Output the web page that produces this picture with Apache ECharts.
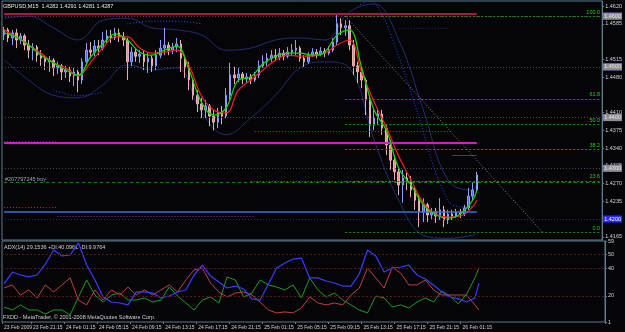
<!DOCTYPE html>
<html><head><meta charset="utf-8">
<script src="https://cdn.jsdelivr.net/npm/echarts@6/dist/echarts.min.js"></script>
<style>html,body{margin:0;padding:0;background:#050508;}#c{width:625px;height:332px;}</style>
</head><body><div id="c"></div>
<script>
// ---- price data (30-min bars, GBPUSD) ----
const openP=[1.4563,1.4573,1.4557,1.4567,1.4553,1.4561,1.4543,1.4533,1.4539,1.4523,1.4517,1.4510,1.4513,1.4498,1.4502,1.4490,1.4494,1.4482,1.4490,1.4474,1.4510,1.4533,1.4529,1.4541,1.4537,1.4553,1.4561,1.4557,1.4567,1.4559,1.4553,1.4510,1.4529,1.4521,1.4525,1.4510,1.4517,1.4502,1.4523,1.4537,1.4543,1.4533,1.4539,1.4545,1.4517,1.4498,1.4474,1.4444,1.4427,1.4415,1.4423,1.4403,1.4391,1.4411,1.4403,1.4444,1.4484,1.4478,1.4486,1.4476,1.4480,1.4474,1.4484,1.4502,1.4510,1.4517,1.4523,1.4519,1.4527,1.4521,1.4529,1.4533,1.4537,1.4517,1.4510,1.4523,1.4529,1.4525,1.4531,1.4527,1.4533,1.4549,1.4585,1.4577,1.4581,1.4543,1.4502,1.4490,1.4474,1.4435,1.4385,1.4399,1.4407,1.4379,1.4346,1.4316,1.4293,1.4267,1.4281,1.4273,1.4257,1.4237,1.4214,1.4228,1.4208,1.4214,1.4206,1.4218,1.4198,1.4210,1.4206,1.4214,1.4210,1.4222,1.4245,1.4257];
const closeP=[1.4573,1.4557,1.4567,1.4553,1.4561,1.4543,1.4533,1.4539,1.4523,1.4517,1.4510,1.4513,1.4498,1.4502,1.4490,1.4494,1.4482,1.4490,1.4474,1.4510,1.4533,1.4529,1.4541,1.4537,1.4553,1.4561,1.4557,1.4567,1.4559,1.4553,1.4510,1.4529,1.4521,1.4525,1.4510,1.4517,1.4502,1.4523,1.4537,1.4543,1.4533,1.4539,1.4545,1.4517,1.4498,1.4474,1.4444,1.4427,1.4415,1.4423,1.4403,1.4391,1.4411,1.4403,1.4444,1.4484,1.4478,1.4486,1.4476,1.4480,1.4474,1.4484,1.4502,1.4510,1.4517,1.4523,1.4519,1.4527,1.4521,1.4529,1.4533,1.4537,1.4517,1.4510,1.4523,1.4529,1.4525,1.4531,1.4527,1.4533,1.4549,1.4585,1.4577,1.4581,1.4543,1.4502,1.4490,1.4474,1.4435,1.4385,1.4399,1.4407,1.4379,1.4346,1.4316,1.4293,1.4267,1.4281,1.4273,1.4257,1.4237,1.4214,1.4228,1.4208,1.4214,1.4206,1.4218,1.4198,1.4210,1.4206,1.4214,1.4210,1.4222,1.4245,1.4257,1.4287];
const lowP=[1.4553,1.4549,1.4543,1.4537,1.4545,1.4533,1.4517,1.4513,1.4510,1.4502,1.4494,1.4490,1.4482,1.4486,1.4474,1.4478,1.4470,1.4462,1.4450,1.4466,1.4502,1.4517,1.4521,1.4523,1.4533,1.4545,1.4547,1.4553,1.4549,1.4541,1.4474,1.4502,1.4510,1.4508,1.4494,1.4488,1.4490,1.4494,1.4517,1.4523,1.4523,1.4525,1.4529,1.4490,1.4478,1.4454,1.4435,1.4411,1.4399,1.4399,1.4383,1.4375,1.4379,1.4387,1.4399,1.4435,1.4466,1.4470,1.4466,1.4468,1.4466,1.4470,1.4478,1.4498,1.4502,1.4510,1.4511,1.4513,1.4513,1.4517,1.4521,1.4523,1.4510,1.4500,1.4506,1.4519,1.4517,1.4521,1.4519,1.4523,1.4529,1.4543,1.4563,1.4561,1.4533,1.4484,1.4468,1.4458,1.4405,1.4362,1.4375,1.4385,1.4366,1.4326,1.4297,1.4277,1.4247,1.4232,1.4257,1.4243,1.4218,1.4184,1.4194,1.4194,1.4198,1.4192,1.4198,1.4184,1.4190,1.4198,1.4202,1.4202,1.4206,1.4218,1.4237,1.4253];
const highP=[1.4579,1.4577,1.4573,1.4575,1.4567,1.4565,1.4553,1.4547,1.4543,1.4533,1.4523,1.4521,1.4517,1.4510,1.4506,1.4502,1.4500,1.4498,1.4494,1.4517,1.4547,1.4549,1.4553,1.4553,1.4569,1.4573,1.4573,1.4577,1.4575,1.4569,1.4557,1.4539,1.4537,1.4533,1.4533,1.4529,1.4523,1.4533,1.4553,1.4577,1.4549,1.4547,1.4557,1.4553,1.4523,1.4510,1.4478,1.4454,1.4439,1.4435,1.4427,1.4415,1.4419,1.4423,1.4458,1.4508,1.4500,1.4498,1.4490,1.4488,1.4486,1.4490,1.4513,1.4523,1.4527,1.4533,1.4535,1.4537,1.4533,1.4539,1.4545,1.4553,1.4541,1.4523,1.4529,1.4537,1.4535,1.4539,1.4537,1.4541,1.4557,1.4602,1.4596,1.4592,1.4592,1.4553,1.4510,1.4500,1.4478,1.4444,1.4415,1.4419,1.4415,1.4385,1.4356,1.4326,1.4300,1.4297,1.4291,1.4285,1.4263,1.4247,1.4241,1.4232,1.4222,1.4222,1.4241,1.4226,1.4218,1.4218,1.4220,1.4220,1.4228,1.4261,1.4271,1.4293];

// moving averages (sampled every 3 bars)
const maIdx=[0,3,6,9,12,15,18,21,24,27,30,33,36,39,42,45,48,51,54,57,60,63,66,69,72,75,78,81,84,87,90,93,96,99,102,105,108,111,114,115];
const redMA=[1.4573,1.4559,1.4543,1.4527,1.4508,1.4498,1.4482,1.4508,1.4537,1.4559,1.4559,1.4537,1.4527,1.4529,1.4533,1.4502,1.4443,1.4415,1.4409,1.4454,1.4474,1.4494,1.4513,1.4523,1.4521,1.4521,1.4527,1.4543,1.4553,1.4490,1.4431,1.4381,1.4324,1.4277,1.4232,1.4210,1.4204,1.4206,1.4224,1.4237];
const greenMA=[1.4567,1.4559,1.4543,1.4523,1.4508,1.4494,1.4484,1.4519,1.4545,1.4565,1.4553,1.4529,1.4523,1.4533,1.4541,1.4494,1.4431,1.4405,1.4419,1.4474,1.4480,1.4506,1.4521,1.4527,1.4527,1.4523,1.4529,1.4563,1.4573,1.4498,1.4415,1.4375,1.4300,1.4267,1.4228,1.4208,1.4202,1.4210,1.4237,1.4257];

// bands (sampled every 6 bars)
const bbIdx=[0,6,12,18,24,30,36,42,48,54,60,66,72,78,84,90,96,102,108,114,115];
const bbUpper=[1.4596,1.4600,1.4577,1.4553,1.4592,1.4596,1.4577,1.4573,1.4563,1.4533,1.4537,1.4553,1.4557,1.4553,1.4608,1.4624,1.4553,1.4415,1.4277,1.4257,1.4267];
const bbLower=[1.4514,1.4474,1.4444,1.4439,1.4464,1.4504,1.4494,1.4498,1.4411,1.4366,1.4399,1.4444,1.4498,1.4510,1.4498,1.4356,1.4237,1.4168,1.4162,1.4168,1.4172];
// dotted envelope (visible parts only; null = gap)
const envIdx=[12,18,24,25,30,36,42,48,49,86,89,92,95,98,101,104,107,109,112,115];
const envVal=[1.4454,1.4443,1.4450,null,1.4585,1.4590,1.4590,1.4585,null,1.4620,1.4630,1.4602,1.4543,1.4474,1.4399,1.4316,1.4253,1.4228,1.4224,1.4226];

// ADX(14) pane (sampled every 2 bars)
const adxIdx=[0,2,4,6,8,10,12,14,16,18,20,22,24,26,28,30,32,34,36,38,40,42,44,46,48,50,52,54,56,58,60,62,64,66,68,70,72,74,76,78,80,82,84,86,88,90,92,94,96,98,100,102,104,106,108,110,112,114,115];
const adx=[28.6,37.1,35,33.6,35,42.9,52.9,48.6,49.3,57.9,42.1,31.4,19.3,15.7,15,13.6,22.9,22.9,22.1,18.6,20,22.9,24.3,35,42.1,34.3,30,25.7,27.1,25,17.9,17.1,28.6,40,43.6,46.4,47.1,32.9,32.9,30.7,29.3,27.1,27.1,35.7,52.9,48.6,37.1,40,40.7,42.1,35,32.1,27.9,22.9,19.3,17.9,15.7,18.6,29.2];
const plusDI=[12.1,10,13.6,10,10,7.1,10,10,6.4,19.3,31.4,20.7,15.7,20.7,22.1,17.1,17.1,18.6,15.7,17.1,26.4,20,15,10,17.1,19.3,15,33.6,31.4,19.3,22.1,31.4,27.9,26.4,24.3,27.9,18.6,32.9,24.3,19.3,22.1,17.1,13.6,10,7.9,20,18.6,12.1,13.6,11.4,15.7,18.6,15.7,23.6,20,14.3,21.4,32.9,40.1];
const minusDI=[25.7,27.9,20.7,24.3,18.6,27.9,22.9,27.9,32.9,17.1,13.6,24.3,17.1,24.3,20.7,26.4,20.7,24.3,20.7,24.3,27.9,22.9,31.4,38.6,40,29.3,22.9,19.3,22.1,22.9,20.7,15.7,10,7.9,8.6,7.9,11.4,19.3,15,13.6,15,13.6,20.7,25.7,40,32.9,25.7,40.7,36.4,27.9,27.9,31.4,24.3,20.7,20.7,20.7,20.7,13.6,10];

// levels and tick labels
const priceTicks=[1.4620,1.4585,1.4515,1.4480,1.4410,1.4375,1.4340,1.4305,1.4270,1.4235,1.4165];
const adxTicks=[59,50,40,20,1.4];
const adxLevels=[50,40,20];
const roundLevels=[1.4600,1.4500,1.4400,1.4300,1.4200];
const halfLevels=[1.4550,1.4450,1.4350,1.4250];
const bidPrice=1.4287;
const fibPct=['100.0','61.8','50.0','38.2','23.6','0.0'];
const fibPrice=[1.4600,1.4437,1.4387,1.4337,1.4275,1.4174];
const fibStart=83, fibEnd=131;
const timeLabels=['23 Feb 2009','23 Feb 21:15','24 Feb 01:15','24 Feb 05:15','24 Feb 09:15','24 Feb 13:15','24 Feb 17:15','24 Feb 21:15','25 Feb 01:15','25 Feb 05:15','25 Feb 09:15','25 Feb 13:15','25 Feb 17:15','25 Feb 21:15','26 Feb 01:15'];
// user-drawn horizontal segments: [fromBar, toBar, price, color, dash, width]
const segments=[
 [0,115,1.4605,'#b5143e','solid',2],
 [0,115,1.4350,'#d21ec2','solid',2],
 [0,115,1.4214,'#3a6ed8','solid',1.5],
 [0,145,1.4273,'#178a17',[3,3],1],
 [60,108,1.4274,'#c23ec2',[1,2],1],
 [61,109,1.4374,'#b8301c',[1,2],1],
 [0,13,1.4354,'#1f5c22',[1,2],1],
 [0,13,1.4224,'#b03030',[1,2],1],
 [13,61,1.4206,'#8a32a8',[1,2],1],
 [96,108,1.4577,'#1f3466',[1,2],1],
 [109,115,1.4326,'#3d4650','solid',1]
];

const N=146;
const start=Date.UTC(2009,1,23,17,45);
const cats=[];
for(let i=0;i<N;i++){const d=new Date(start+i*1800000);cats.push(d.getUTCDate()+' Feb '+String(d.getUTCHours()).padStart(2,'0')+':'+String(d.getUTCMinutes()).padStart(2,'0'));}
const lastBar=openP.length-1;
const showLab=(i,v)=> i===0 || (i<=lastBar && timeLabels.indexOf(v)>0);

const FONT='Liberation Sans';
const FS=5.5;
const AX='#5d7d8d';
const candles=openP.map((o,i)=>[o,closeP[i],lowP[i],highP[i]]);
const pairs=(idx,vals)=>idx.map((k,j)=>[k,vals[j]]);
const boxLabel=(bg,fg)=>({show:true,position:'end',distance:1,formatter:p=>p.value.toFixed(4),backgroundColor:bg,color:fg,fontSize:FS,fontFamily:FONT,padding:[1,1,0,1]});

const mlData=[];
roundLevels.forEach(v=>mlData.push({yAxis:v,lineStyle:{color:'#1d3868',type:[1,2],width:1},label:boxLabel('#2a2aff','#ffffff')}));
halfLevels.forEach(v=>mlData.push({yAxis:v,lineStyle:{color:'#4a4a55',type:[1,2],width:1},label:boxLabel('#8e8e8e','#e4e4e4')}));
mlData.push({yAxis:bidPrice,lineStyle:{opacity:0},label:boxLabel('#a8d4ff','#1a2040')});
segments.forEach(s=>mlData.push([{coord:[s[0],s[2]],lineStyle:{color:s[3],type:s[4],width:s[5]}},{coord:[s[1],s[2]]}]));
fibPrice.forEach((v,k)=>mlData.push([{coord:[fibStart,v],lineStyle:{color:'#129612',type:[2,2],width:1},label:{show:true,position:'insideEndTop',distance:[0,1],formatter:fibPct[k],color:'#1ed21e',fontSize:FS,fontFamily:FONT}},{coord:[N-1,v]}]));
mlData.push([{coord:[fibStart,fibPrice[0]],lineStyle:{color:'#8c8c8c',type:[1,2],width:1}},{coord:[fibEnd,fibPrice[5]]}]);

const chart=echarts.init(document.getElementById('c'));
chart.setOption({
 animation:false,
 backgroundColor:'#050508',
 textStyle:{fontFamily:FONT},
 grid:[
  {left:2,right:20,top:1,height:239,show:true,borderColor:AX,borderWidth:1,backgroundColor:'transparent'},
  {left:2,right:20,top:241,height:81,show:true,borderColor:AX,borderWidth:1,backgroundColor:'transparent'}
 ],
 xAxis:[
  {gridIndex:0,type:'category',data:cats,boundaryGap:true,axisLine:{show:false},axisTick:{show:false},axisLabel:{show:false},splitLine:{show:false}},
  {gridIndex:1,type:'category',data:cats,boundaryGap:true,axisLine:{show:false},
   axisTick:{show:true,interval:showLab,length:2,lineStyle:{color:AX}},
   axisLabel:{show:true,interval:showLab,showMinLabel:true,hideOverlap:false,formatter:(v,i)=>i===0?timeLabels[0]:v,align:'left',margin:3,fontSize:5,color:'#cfd3d6',fontFamily:FONT},splitLine:{show:false}}
 ],
 yAxis:[
  {gridIndex:0,type:'value',position:'right',min:1.41586,max:1.46299,splitLine:{show:false},
   axisLine:{show:true,lineStyle:{color:AX}},axisTick:{show:true,length:2,customValues:priceTicks,lineStyle:{color:AX}},
   axisLabel:{show:true,customValues:priceTicks,formatter:v=>v.toFixed(4),margin:3,fontSize:FS,color:'#cfd3d6',fontFamily:FONT}},
  {gridIndex:1,type:'value',position:'right',min:1.4,max:59.3,splitLine:{show:false},
   axisLine:{show:true,lineStyle:{color:AX}},axisTick:{show:true,length:2,customValues:adxTicks,lineStyle:{color:AX}},
   axisLabel:{show:true,customValues:adxTicks,formatter:v=>v<2?'1':String(v),margin:3,fontSize:FS,color:'#cfd3d6',fontFamily:FONT}}
 ],
 series:[
  {type:'line',xAxisIndex:0,yAxisIndex:0,data:[],z:1,silent:true,
   markLine:{silent:true,symbol:'none',animation:false,label:{show:false},data:mlData}},
  {type:'line',xAxisIndex:0,yAxisIndex:0,data:pairs(bbIdx,bbUpper),smooth:0.4,symbol:'none',z:2,lineStyle:{color:'#1f2f6e',width:1}},
  {type:'line',xAxisIndex:0,yAxisIndex:0,data:pairs(bbIdx,bbLower),smooth:0.4,symbol:'none',z:2,lineStyle:{color:'#1f2f6e',width:1}},
  {type:'line',xAxisIndex:0,yAxisIndex:0,data:pairs(envIdx,envVal),smooth:0.4,connectNulls:false,symbol:'none',z:2,lineStyle:{color:'#2a4aff',width:1,type:[1,2]}},
  {type:'candlestick',xAxisIndex:0,yAxisIndex:0,data:candles,barWidth:2,z:3,
   itemStyle:{color:'#4d68ff',color0:'#ec8e8e',borderColor:'#8f9fff',borderColor0:'#e6b0b0',borderWidth:1}},
  {type:'line',xAxisIndex:0,yAxisIndex:0,data:pairs(maIdx,redMA),smooth:0.4,symbol:'none',z:4,lineStyle:{color:'#ff1a1a',width:1.2}},
  {type:'line',xAxisIndex:0,yAxisIndex:0,data:pairs(maIdx,greenMA),smooth:0.4,symbol:'none',z:5,lineStyle:{color:'#00e000',width:1.2}},
  {type:'line',xAxisIndex:1,yAxisIndex:1,data:pairs(adxIdx,adx),symbol:'none',z:4,lineStyle:{color:'#3a3cff',width:1.2},
   markLine:{silent:true,symbol:'none',label:{show:false},lineStyle:{color:'#5e1515',type:[2,2],width:1},data:adxLevels.map(v=>({yAxis:v}))}},
  {type:'line',xAxisIndex:1,yAxisIndex:1,data:pairs(adxIdx,plusDI),symbol:'none',z:3,lineStyle:{color:'#1c9c1c',width:1}},
  {type:'line',xAxisIndex:1,yAxisIndex:1,data:pairs(adxIdx,minusDI),symbol:'none',z:3,lineStyle:{color:'#c04040',width:1}}
 ],
 graphic:[
  {type:'text',left:3,top:3,style:{text:'GBPUSD,M15  1.4282 1.4291 1.4281 1.4287',fill:'#e6e6e6',fontSize:FS,fontFamily:FONT}},
  {type:'text',left:5,top:176,style:{text:'#207797245 buy',fill:'#9aa8b8',fontSize:FS,fontFamily:FONT}},
  {type:'text',left:4,top:244,style:{text:'ADX(14) 29.1536 +DI:40.0961 -DI:9.9764',fill:'#d0d0d0',fontSize:FS,fontFamily:FONT}},
  {type:'text',left:3,top:314,style:{text:'FXDD - MetaTrader, \u00a9 2001-2008 MetaQuotes Software Corp.',fill:'#d0d0d0',fontSize:FS,fontFamily:FONT}}
 ]
});
</script></body></html>
